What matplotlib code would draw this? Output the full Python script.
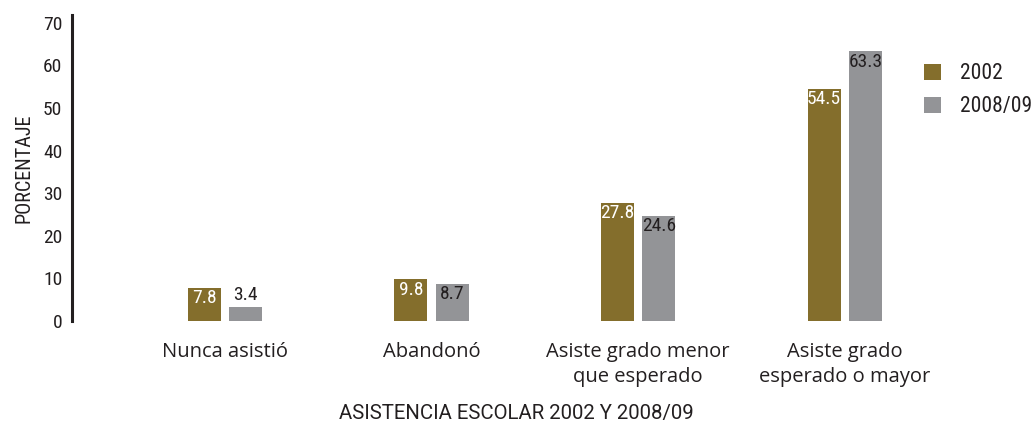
import matplotlib
matplotlib.use('Agg')
import matplotlib.pyplot as plt
import numpy as np

# Datos
categorias = ['Nunca asistió', 'Abandonó', 'Asiste grado menor\nque esperado', 'Asiste grado\nesperado o mayor']
v2002 = [7.8, 9.8, 27.8, 54.5]
v2008 = [3.4, 8.7, 24.6, 63.3]
series = ['2002', '2008/09']

c2002 = '#846e2c'
c2008 = '#939497'
texto = '#231f20'
narrow = ['Roboto Condensed', 'DejaVu Sans']
normal = ['Open Sans', 'DejaVu Sans']

fig = plt.figure(figsize=(10.31, 4.24), dpi=100)
ax = fig.add_axes([72/1031, 103/424, 876/1031, 306/424])

x = np.arange(len(categorias))
w = 0.16
off = 0.1
b1 = ax.bar(x - off, v2002, w, color=c2002, label=series[0])
b2 = ax.bar(x + off, v2008, w, color=c2008, label=series[1])

for rect, v in zip(b1, v2002):
    ax.text(rect.get_x() + rect.get_width()/2, v - 0.3, f'{v}', ha='center', va='top',
            color='white', fontsize=14, family=narrow)
for rect, v in zip(b2, v2008):
    if v < 5:
        ax.text(rect.get_x() + rect.get_width()/2, v + 0.5, f'{v}', ha='center', va='bottom',
                color=texto, fontsize=14, family=narrow)
    else:
        ax.text(rect.get_x() + rect.get_width()/2, v - 0.3, f'{v}', ha='center', va='top',
                color=texto, fontsize=14, family=narrow)

ax.set_xlim(-0.741, 3.5)
ax.set_ylim(0, 71.8)
ax.set_yticks(range(0, 71, 10))
ax.set_yticklabels([str(t) for t in range(0, 71, 10)], family=narrow, fontsize=14, color=texto)
ax.set_xticks(x)
ax.set_xticklabels(categorias, family=normal, fontsize=14.5, color=texto, linespacing=1.35)
ax.tick_params(axis='y', length=0, pad=7)
ax.tick_params(axis='x', length=0, pad=15)

for s in ['top', 'right', 'bottom']:
    ax.spines[s].set_visible(False)
ax.spines['left'].set_linewidth(2.2)
ax.spines['left'].set_color(texto)

ax.set_ylabel('PORCENTAJE', family=narrow, fontsize=14.5, color=texto, labelpad=7)
ax.set_xlabel('ASISTENCIA ESCOLAR 2002 Y 2008/09', family=['Roboto', 'DejaVu Sans'], fontsize=14.7,
              color=texto)
ax.xaxis.set_label_coords((516 - 72) / 876, -0.272)
ax.xaxis.label.set_va('top')

leg = ax.legend(loc='upper left', bbox_to_anchor=(905/1031, 380/424), bbox_transform=fig.transFigure,
                frameon=False, prop={'family': narrow, 'size': 15.5}, handlelength=0.75, handleheight=0.75,
                handletextpad=0.9, labelspacing=0.55)
for t in leg.get_texts():
    t.set_color(texto)

fig.savefig('out.png', dpi=100)
